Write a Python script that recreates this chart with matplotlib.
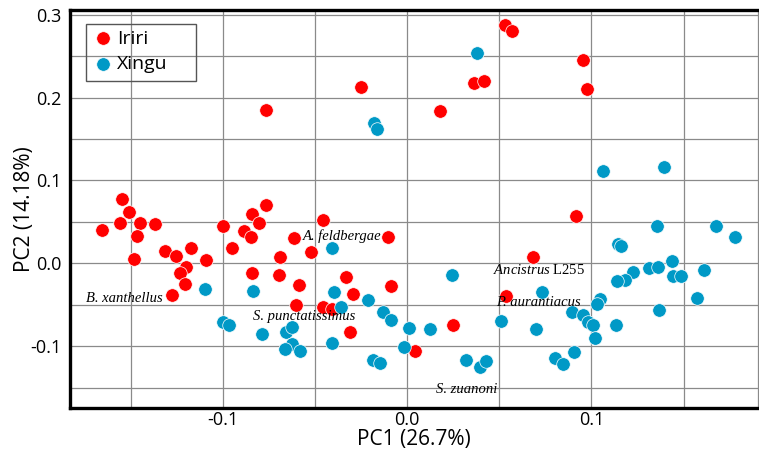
import matplotlib
matplotlib.use("Agg")
import matplotlib.pyplot as plt
from matplotlib.ticker import MultipleLocator, FormatStrFormatter
from matplotlib.patches import Rectangle

plt.rcParams['axes.unicode_minus'] = False
plt.rcParams['mathtext.fontset'] = 'custom'
plt.rcParams['mathtext.it'] = 'Liberation Serif:italic'
plt.rcParams['mathtext.rm'] = 'Liberation Serif'

# ---- data ----
iriri_pc1 = [-0.0769, -0.1546, -0.1513, -0.1561, -0.1451, -0.1368, -0.1656, -0.1469,
             -0.1484, -0.1314, -0.1254, -0.1173, -0.1200, -0.1232, -0.1091, -0.1209,
             -0.1276, -0.0999, -0.0953, -0.0841, -0.0769, -0.0807, -0.0887, -0.0849,
             -0.0841, -0.0615, -0.0691, -0.0695, -0.0588, -0.0603, -0.0523, -0.0456,
             -0.0103, -0.0334, -0.0090, -0.0293, -0.0459, -0.0410, -0.0311, 0.0042,
             0.0248, 0.0682, 0.0536, 0.0914, -0.0253, 0.0176, 0.0364, 0.0415,
             0.0529, 0.0567, 0.0954, 0.0977]
iriri_pc2 = [0.1847, 0.0771, 0.0622, 0.0482, 0.0482, 0.0470, 0.0401, 0.0329,
             0.0055, 0.0145, 0.0088, 0.0188, -0.0041, -0.0117, 0.0036, -0.0245,
             -0.0378, 0.0446, 0.0188, 0.0598, 0.0702, 0.0482, 0.0389, 0.0321,
             -0.0120, 0.0305, 0.0076, -0.0137, -0.0265, -0.0499, 0.0133, 0.0522,
             0.0321, -0.0169, -0.0277, -0.0366, -0.0523, -0.0547, -0.0824, -0.1057,
             -0.0743, 0.0080, -0.0390, 0.0573, 0.2124, 0.1839, 0.2180, 0.2205,
             0.2875, 0.2803, 0.2458, 0.2104]

xingu_pc1 = [-0.0181, -0.0164, 0.0380, 0.1062, 0.1392, -0.1098, -0.0839, -0.0999,
             -0.0968, -0.0787, -0.0660, -0.0624, -0.0628, -0.0662, -0.0584, -0.0410,
             -0.0400, -0.0360, -0.0410, -0.0212, -0.0130, -0.0088, 0.0011, 0.0123,
             -0.0018, -0.0188, -0.0147, 0.0243, 0.0320, 0.0396, 0.0429, 0.0510,
             0.0733, 0.0699, 0.0802, 0.0844, 0.0907, 0.1354, 0.1676, 0.1779,
             0.1144, 0.1160, 0.1439, 0.1312, 0.1361, 0.1224, 0.1609, 0.1442,
             0.1484, 0.1182, 0.1137, 0.1574, 0.1046, 0.1028, 0.1366, 0.0896,
             0.0952, 0.0983, 0.1010, 0.1133, 0.1021]
xingu_pc2 = [0.1694, 0.1620, 0.2537, 0.1108, 0.1157, -0.0306, -0.0337, -0.0703,
             -0.0751, -0.0852, -0.0824, -0.0767, -0.0972, -0.1033, -0.1057, 0.0188,
             -0.0349, -0.0523, -0.0957, -0.0442, -0.0587, -0.0683, -0.0783, -0.0795,
             -0.1012, -0.1169, -0.1198, -0.0145, -0.1169, -0.1253, -0.1181, -0.0692,
             -0.0349, -0.0788, -0.1145, -0.1217, -0.1069, 0.0446, 0.0446, 0.0321,
             0.0236, 0.0212, 0.0031, -0.0057, -0.0045, -0.0108, -0.0084, -0.0153,
             -0.0149, -0.0205, -0.0210, -0.0418, -0.0434, -0.0490, -0.0563, -0.0590,
             -0.0627, -0.0711, -0.0747, -0.0743, -0.0904]

labels_text = ["A. feldbergae", "B. xanthellus", "S. punctatissimus", "S. zuanoni",
               r"$\mathit{Ancistrus}$ L255", "P. aurantiacus"]
labels_x = [-0.0566, -0.1744, -0.0840, 0.0156, 0.0464, 0.0482]
labels_y = [0.0329, -0.0430, -0.0643, -0.1526, -0.0081, -0.0474]

# ---- figure ----
W, H = 759, 459
fig = plt.figure(figsize=(W / 100, H / 100), dpi=100)
ax = fig.add_axes([70 / W, 1 - 408 / H, (758 - 70) / W, (408 - 10) / H])

red = '#ff0000'
teal = '#0099c6'
ax.scatter(iriri_pc1, iriri_pc2, s=95, c=red, edgecolors='white', linewidths=0.5,
           label='Iriri', zorder=3)
ax.scatter(xingu_pc1, xingu_pc2, s=95, c=teal, edgecolors='white', linewidths=0.5,
           label='Xingu', zorder=3)

for t, x, y in zip(labels_text, labels_x, labels_y):
    style = 'normal' if t.startswith('$') else 'italic'
    ax.text(x, y, t, family='Liberation Serif', style=style, fontsize=10.5,
            ha='left', va='center', zorder=4)

ax.set_xlim(-0.1831, 0.1904)
ax.set_ylim(-0.1747, 0.3057)

ax.xaxis.set_major_locator(MultipleLocator(0.1))
ax.yaxis.set_major_locator(MultipleLocator(0.1))
ax.xaxis.set_minor_locator(MultipleLocator(0.05))
ax.yaxis.set_minor_locator(MultipleLocator(0.05))
ax.xaxis.set_major_formatter(FormatStrFormatter('%.1f'))
ax.yaxis.set_major_formatter(FormatStrFormatter('%.1f'))
ax.grid(True, which='both', color='#8a8a8a', linewidth=0.9, zorder=0)
ax.set_axisbelow(True)
ax.tick_params(which='both', length=0)
ax.tick_params(axis='x', pad=2, labelsize=13)
ax.tick_params(axis='y', pad=6, labelsize=13)
for lab in ax.get_xticklabels() + ax.get_yticklabels():
    lab.set_family('Open Sans')

for side in ['left', 'top', 'bottom']:
    ax.spines[side].set_linewidth(2.4)
    ax.spines[side].set_color('black')
ax.spines['right'].set_linewidth(0.9)
ax.spines['right'].set_color('#8a8a8a')

ax.set_xlabel('PC1 (26.7%)', family='Open Sans', fontsize=15, labelpad=0)
ax.set_ylabel('PC2 (14.18%)', family='Open Sans', fontsize=15, labelpad=-3)

leg = ax.legend(loc='upper left', bbox_to_anchor=(93 / W, 1 - 29.5 / H),
                bbox_transform=fig.transFigure, borderaxespad=0, frameon=False,
                prop={'family': 'Open Sans', 'size': 14}, borderpad=0,
                handletextpad=0.24, labelspacing=0.37, handlelength=1.0)
fig.patches.append(Rectangle((86 / W, 1 - 81 / H), 110 / W, 57 / H,
                             transform=fig.transFigure, fill=False,
                             edgecolor='#555555', linewidth=1.0, zorder=5))

fig.savefig('out.png', dpi=100)
